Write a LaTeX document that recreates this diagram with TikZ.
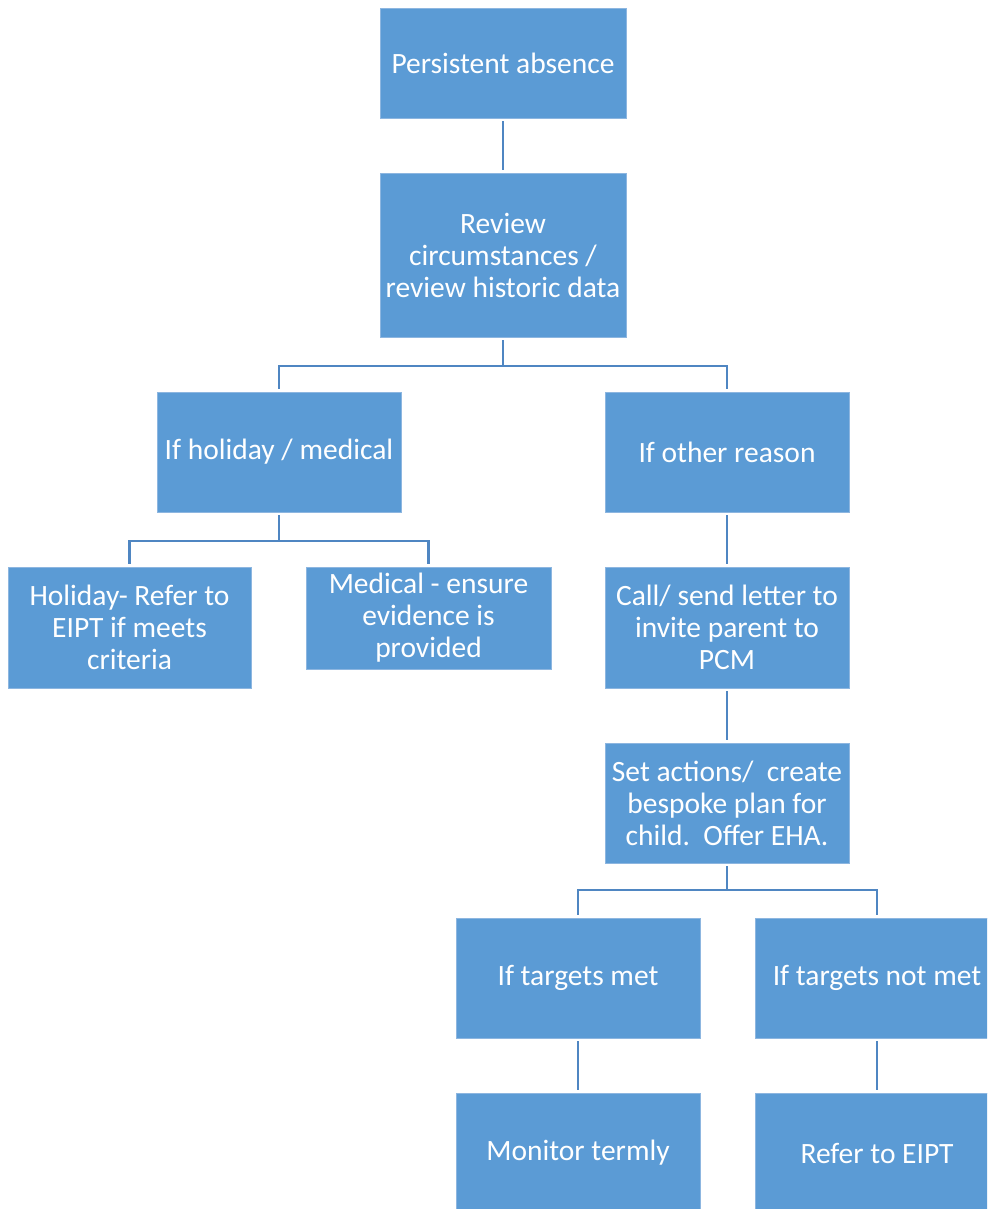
\documentclass[tikz,border=0pt]{standalone}
\usepackage{fontspec}
\setmainfont{Carlito}
\definecolor{boxfill}{HTML}{5B9BD5}
\definecolor{boxline}{HTML}{8DB6E0}
\definecolor{conncol}{HTML}{4F86C2}
\begin{document}
\begin{tikzpicture}[x=1pt,y=1pt,
  box/.style={rectangle, fill=boxfill, draw=boxline, line width=0.6pt, text=white,
    align=center, inner sep=0pt, minimum width=244pt, minimum height=120pt,
    font=\fontsize{29.5}{32}\selectfont},
  conn/.style={draw=conncol, line width=2.6pt}]
\useasboundingbox (0,0) rectangle (987,-1209);
\begin{scope}
\clip (0,0) rectangle (987,-1209);
\node[box, minimum width=246pt, minimum height=110pt] (b1) at (503,-63) {Persistent absence};
\node[box, minimum width=246pt, minimum height=164pt] (b2) at (503,-255) {Review\\circumstances /\\review historic data};
\node[box] (b3) at (279,-452) {If holiday / medical};
\node[box] (b4) at (727,-452) {If other reason};
\node[box, minimum width=243pt, minimum height=121pt] (b5) at (129.5,-627.5) {Holiday- Refer to\\EIPT if meets\\criteria};
\node[box, minimum width=245pt, minimum height=102pt] (b6) at (428.5,-618) {Medical - ensure\\evidence is\\provided};
\node[box, minimum height=121pt] (b7) at (727,-627.5) {Call/ send letter to\\invite parent to\\PCM};
\node[box] (b8) at (727,-803) {Set actions/\ \ create\\bespoke plan for\\child.\ \ Offer EHA.};
\node[box] (b9) at (578,-978) {If targets met};
\node[box] (b10) at (877,-978) {If targets not met};
\node[box] (b11) at (578,-1153) {Monitor termly};
\node[box] (b12) at (877,-1153) {Refer to EIPT};

\coordinate (j1) at (503,-366);
\coordinate (j2) at (279,-541);
\coordinate (j3) at (727,-890);

\draw[conn, shorten <=3pt, shorten >=3pt] (b1.south) -- (b2.north);
\draw[conn, shorten <=3pt] (b2.south) -- (j1);
\draw[conn, shorten >=3pt] (j1) -| (b3.north);
\draw[conn, shorten >=3pt] (j1) -| (b4.north);
\draw[conn, shorten <=3pt] (b3.south) -- (j2);
\draw[conn, shorten >=3pt] (j2) -| (b5.north);
\draw[conn, shorten >=3pt] (j2) -| (b6.north);
\draw[conn, shorten <=3pt, shorten >=3pt] (b4.south) -- (b7.north);
\draw[conn, shorten <=3pt, shorten >=3pt] (b7.south) -- (b8.north);
\draw[conn, shorten <=3pt] (b8.south) -- (j3);
\draw[conn, shorten >=3pt] (j3) -| (b9.north);
\draw[conn, shorten >=3pt] (j3) -| (b10.north);
\draw[conn, shorten <=3pt, shorten >=3pt] (b9.south) -- (b11.north);
\draw[conn, shorten <=3pt, shorten >=3pt] (b10.south) -- (b12.north);
\end{scope}
\end{tikzpicture}
\end{document}
